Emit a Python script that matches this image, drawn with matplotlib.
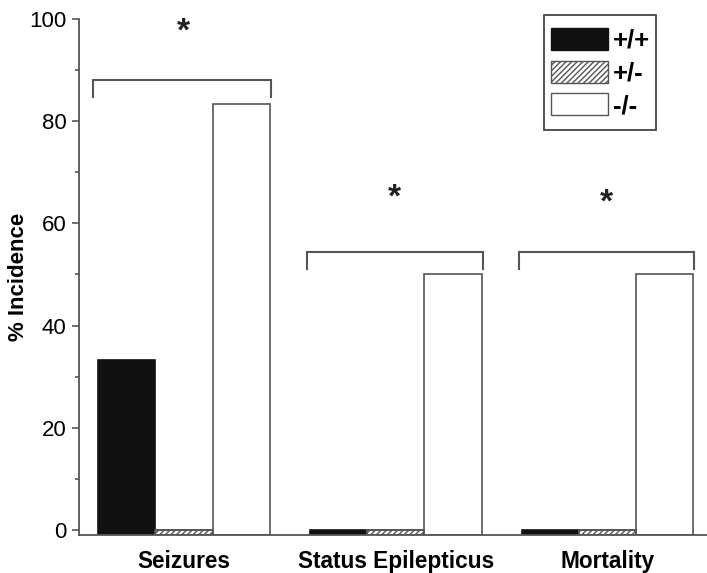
import matplotlib
matplotlib.use("Agg")
import matplotlib.pyplot as plt
import numpy as np
from matplotlib.patches import Patch, Rectangle

plt.rcParams['font.family'] = ['Liberation Sans', 'DejaVu Sans']
plt.rcParams['hatch.linewidth'] = 1.0

categories = ["Seizures", "Status Epilepticus", "Mortality"]
genotypes = ["+/+", "+/-", "-/-"]
values = {
    "+/+": [33.3, 0.0, 0.0],
    "+/-": [0.0, 0.0, 0.0],
    "-/-": [83.3, 50.0, 50.0],
}
bracket_levels = [88, 54.4, 54.4]
star_levels = [97.5, 65, 64]

W, H = 707, 573
fig = plt.figure(figsize=(W / 100, H / 100), dpi=100)
ax = fig.add_axes([79/W, 1-535/H, 1-79/W, (535-19)/H])

x = np.arange(len(categories))
w = 0.2706
offsets = [-w, 0, w]
faces = ["#111111", "white", "white"]
hatches = [None, "//////", None]
base = -1.0
edge = "#555555"
for g, off, fc, h in zip(genotypes, offsets, faces, hatches):
    v = np.array(values[g])
    ax.bar(x + off, v - base, bottom=base, width=w, color=fc,
           edgecolor=edge if fc == "white" else "#111111",
           linewidth=1.2, hatch=h, zorder=2)
    if h:
        ax.bar(x + off, v - base, bottom=base, width=w, color='none',
               edgecolor=edge, linewidth=1.2, zorder=3)

# brackets and stars
for i, (bl, sl) in enumerate(zip(bracket_levels, star_levels)):
    x0 = x[i] - 1.5 * w - (0.025 if i == 0 else 0.012)
    x1 = x[i] + 1.5 * w + 0.004
    ax.plot([x0, x0, x1, x1], [bl - 3.3, bl, bl, bl - 3.3], color="#555555", lw=1.5, zorder=4,
            solid_joinstyle='miter', clip_on=False)
    ax.text(x[i] - 0.005, sl, "*", ha="center", va="center", fontsize=24,
            fontweight="bold", color="#222222")

ax.set_xlim((79 - 184) / 211.75, (707 - 184) / 211.75)
ax.set_ylim(-1, 100)
ax.set_yticks([0, 20, 40, 60, 80, 100])
ax.set_yticks([10, 30, 50, 70, 90], minor=True)
ax.set_xticks(x)
ax.set_xticklabels(categories, fontsize=16.3, fontweight="bold")
ax.tick_params(axis='x', length=0, pad=11)
ax.tick_params(axis='y', which='major', length=5, width=1.2, color="#555555", labelsize=16, pad=4)
ax.tick_params(axis='y', which='minor', length=3, width=1.2, color="#555555")
for s in ["top", "right"]:
    ax.spines[s].set_visible(False)
for s in ["left", "bottom"]:
    ax.spines[s].set_color("#555555")
    ax.spines[s].set_linewidth(1.3)
ax.set_ylabel("% Incidence", fontsize=16, fontweight="bold")
ax.yaxis.set_label_coords((29 - 79) / 628, 0.5)

handles = [Patch(facecolor="#111111", edgecolor="#111111"),
           Patch(facecolor="white", edgecolor=edge, hatch="//////"),
           Patch(facecolor="white", edgecolor=edge)]
leg = fig.legend(handles, genotypes, loc="upper left",
                 bbox_to_anchor=(551 / W, 1 - 28 / H),
                 prop={'weight': 'bold', 'size': 18.5}, frameon=False,
                 handlelength=2.2, handleheight=0.95, borderpad=0,
                 labelspacing=0.3, handletextpad=0.2, borderaxespad=0)
fig.patches.append(Rectangle((544 / W, 1 - 130 / H), (656 - 544) / W, (130 - 15) / H,
                             transform=fig.transFigure, fill=False,
                             edgecolor="#444444", linewidth=1.3, zorder=5))

fig.savefig("out.png", dpi=100)
